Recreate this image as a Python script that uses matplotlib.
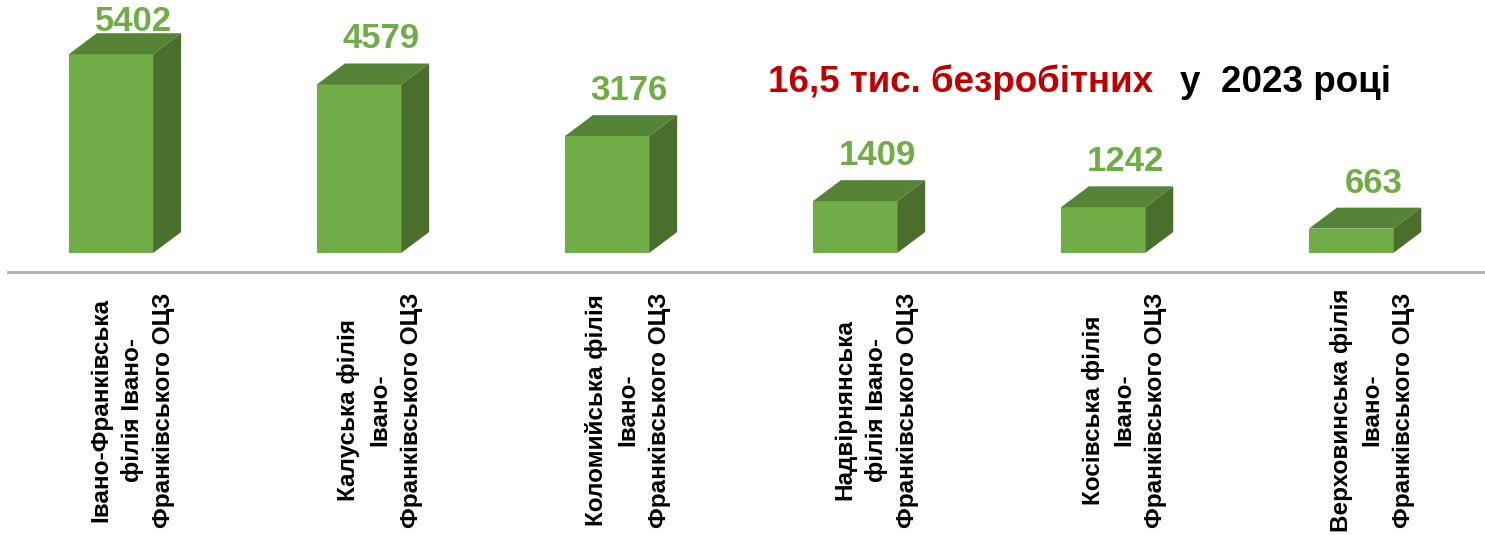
import matplotlib
matplotlib.use("Agg")
import matplotlib.pyplot as plt
from matplotlib.patches import Polygon
from matplotlib.transforms import blended_transform_factory

plt.rcParams['font.family'] = ['Liberation Sans', 'DejaVu Sans']

# ------------------------------------------------------------------
# Data
# ------------------------------------------------------------------
branches = [
    "Івано-Франківська\nфілія Івано-\nФранківського ОЦЗ",
    "Калуська філія\nІвано-\nФранківського ОЦЗ",
    "Коломийська філія\nІвано-\nФранківського ОЦЗ",
    "Надвірнянська\nфілія Івано-\nФранківського ОЦЗ",
    "Косівська філія\nІвано-\nФранківського ОЦЗ",
    "Верховинська філія\nІвано-\nФранківського ОЦЗ",
]
unemployed = [5402, 4579, 3176, 1409, 1242, 663]

title_red = "16,5 тис. безробітних"
title_black = "у  2023 році"

# ------------------------------------------------------------------
# Style
# ------------------------------------------------------------------
FRONT = "#70AD47"
TOP = "#568437"
SIDE = "#4A6E2B"
LABEL_GREEN = "#70AD47"

bar_w = 0.34      # front face width (category units)
depth_x = 0.113   # 3D depth, x
depth_y = 570     # 3D depth, value units

fig = plt.figure(figsize=(14.85, 5.35), dpi=100)
ax = fig.add_axes([8 / 1485, 263 / 535, 1 - 8 / 1485, 272 / 535])
ax.set_xlim(-0.415, 5.54)
ax.set_ylim(-516, 6875)

xs = list(range(len(unemployed)))
ax.bar(xs, unemployed, width=bar_w, color=FRONT, zorder=3)

for x, v in zip(xs, unemployed):
    l, r = x - bar_w / 2, x + bar_w / 2
    top = Polygon([(l, v), (r, v), (r + depth_x, v + depth_y), (l + depth_x, v + depth_y)],
                  closed=True, facecolor=TOP, edgecolor='none', zorder=3)
    side = Polygon([(r, 0), (r + depth_x, depth_y), (r + depth_x, v + depth_y), (r, v)],
                   closed=True, facecolor=SIDE, edgecolor='none', zorder=3)
    ax.add_patch(top)
    ax.add_patch(side)
    # labels sit above the box, but stay inside the figure
    ax.text(x + 0.09, min(v + depth_y + 220, 5830), f"{v}", ha='center', va='bottom',
            fontsize=25, fontweight='bold', color=LABEL_GREEN, zorder=4)

for s in ['top', 'left', 'right']:
    ax.spines[s].set_visible(False)
ax.spines['bottom'].set_color('#ADADAD')
ax.spines['bottom'].set_linewidth(2)
ax.set_xticks([])
ax.set_yticks([])
ax.patch.set_alpha(0)

# category labels (rotated, centred under each bar)
trans = blended_transform_factory(ax.transData, fig.transFigure)
for x, name in zip(xs, branches):
    ax.text(x + 0.085, 125 / 535, name, transform=trans, rotation=90,
            ha='center', va='center', multialignment='center',
            fontsize=17.5, fontweight='bold', linespacing=1.45, color='black')

# headline
fig.text(768 / 1485, 1 - 92 / 535, title_red, color='#C00000',
         fontsize=26.5, fontweight='bold', ha='left', va='baseline',
         family=['Liberation Sans Narrow', 'Liberation Sans'])
fig.text(1180 / 1485, 1 - 92 / 535, title_black, color='black',
         fontsize=26.5, fontweight='bold', ha='left', va='baseline',
         family=['Liberation Sans Narrow', 'Liberation Sans'])

fig.savefig("out.png", dpi=100)
